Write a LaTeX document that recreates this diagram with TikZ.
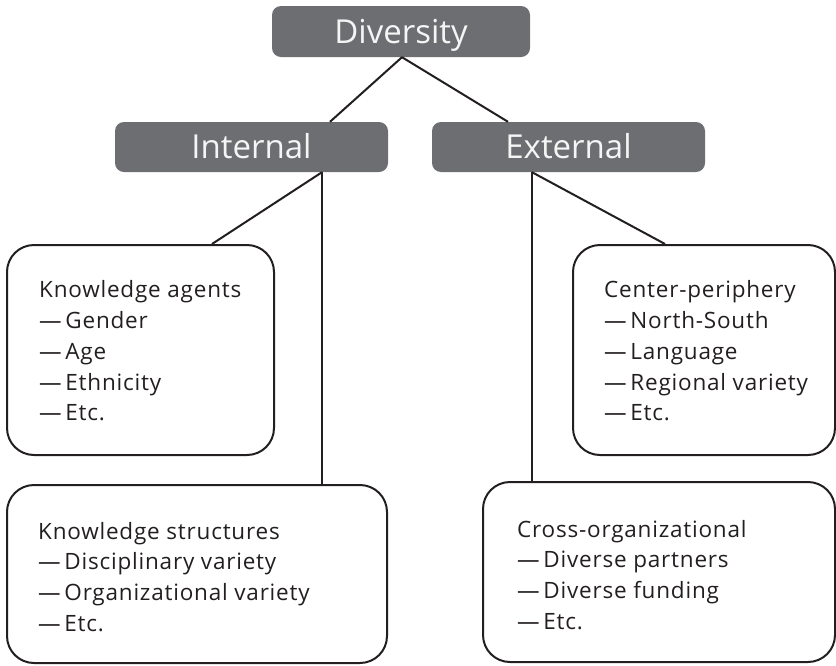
\documentclass[tikz,border=0pt]{standalone}
\usepackage{fontspec}
\setmainfont{Open Sans}
\newfontfamily\bodyfont[LetterSpace=3.5]{Open Sans}
\usetikzlibrary{calc}
\definecolor{hdrgray}{RGB}{109,110,113}
\definecolor{linec}{RGB}{35,31,32}
\definecolor{hdrtext}{RGB}{245,245,245}
\begin{document}
\begin{tikzpicture}[x=1pt,y=-1pt,
  hdr/.style={fill=hdrgray, draw=none, rounded corners=9pt, text=hdrtext,
    font=\fontsize{33}{38}\selectfont, text height=23pt, text depth=0pt, inner sep=0pt},
  leaf/.style={draw=linec, line width=2pt, rounded corners=27pt, inner sep=0pt},
  leaftext/.style={anchor=west, align=left, text=linec, inner sep=0pt,
    font=\bodyfont\fontsize{22.5}{30.8}\selectfont},
  conn/.style={draw=linec, line width=2pt}]
\useasboundingbox (0,0) rectangle (836,665);
% header boxes
\node[hdr, minimum width=258pt, minimum height=51pt] (div) at (401,31.5) {Diversity};
\node[hdr, minimum width=273pt, minimum height=50pt] (int) at (251.5,147) {Internal};
\node[hdr, minimum width=273pt, minimum height=50pt] (ext) at (568.5,147) {External};
% leaf boxes
\node[leaf, minimum width=267pt, minimum height=210pt] (ka) at (140.5,350) {};
\node[leaf, minimum width=262pt, minimum height=210pt] (cp) at (704,350) {};
\node[leaf, minimum width=380pt, minimum height=178pt] (ks) at (197,574) {};
\node[leaf, minimum width=352pt, minimum height=180pt] (co) at (659,572) {};
% texts
\node[leaftext] (kat) at ([xshift=33pt,yshift=-1pt]ka.west)
  {Knowledge agents\\—\,Gender\\—\,Age\\—\,Ethnicity\\—\,Etc.};
\node[leaftext] (cpt) at ([xshift=32pt,yshift=-1pt]cp.west)
  {Center-periphery\\—\,North-South\\—\,Language\\—\,Regional variety\\—\,Etc.};
\node[leaftext] (kst) at ([xshift=32pt,yshift=-3pt]ks.west)
  {Knowledge structures\\—\,Disciplinary variety\\—\,Organizational variety\\—\,Etc.};
\node[leaftext] (cot) at ([xshift=35pt,yshift=-3pt]co.west)
  {Cross-organizational\\—\,Diverse partners\\—\,Diverse funding\\—\,Etc.};
% connectors
\coordinate (apex) at ([xshift=1pt]div.south);
\draw[conn] (apex) -- ([xshift=78.5pt]int.north);
\draw[conn] (apex) -- ([xshift=-60.5pt]ext.north);
\coordinate (intb) at ([xshift=70.5pt]int.south);
\draw[conn] (intb) -- ([xshift=71.5pt]ka.north);
\draw[conn] (intb) -- (intb |- ks.north);
\coordinate (extb) at ([xshift=-36.5pt]ext.south);
\draw[conn] (extb) -- ([xshift=-39pt]cp.north);
\draw[conn] (extb) -- (extb |- co.north);
\end{tikzpicture}
\end{document}
